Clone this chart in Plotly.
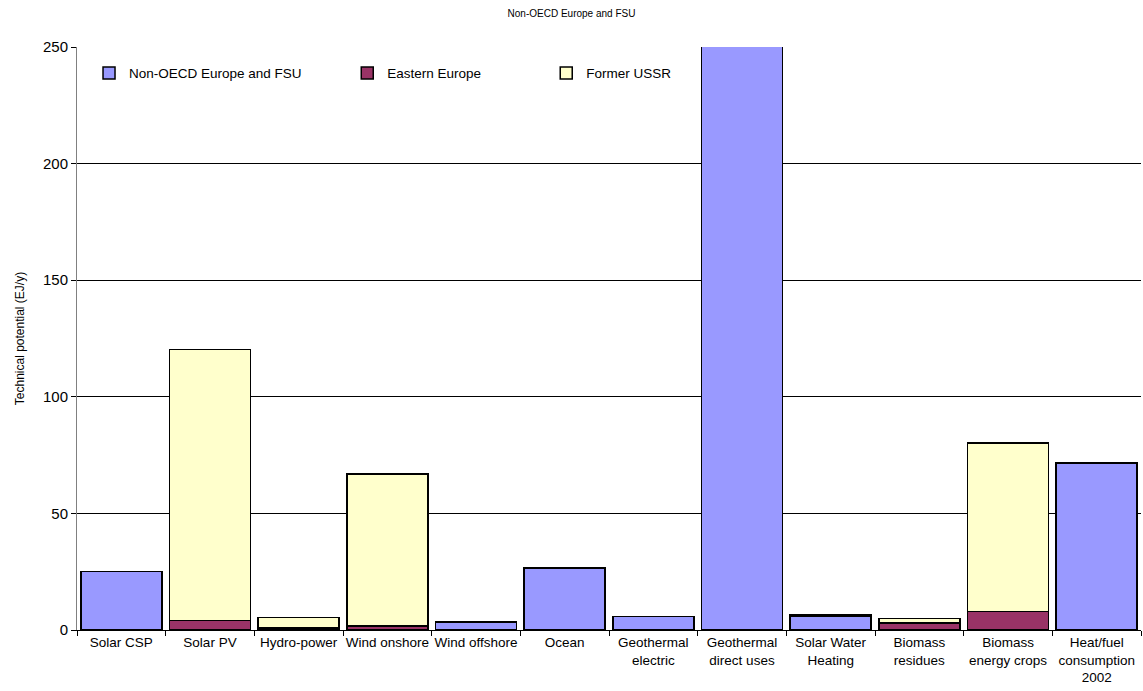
import plotly.graph_objects as go

# Technical potential of renewable energy sources, Non-OECD Europe and FSU (EJ/y)
categories = [
    "Solar CSP", "Solar PV", "Hydro-power", "Wind onshore", "Wind offshore",
    "Ocean", "Geothermal<br>electric", "Geothermal<br>direct uses",
    "Solar Water<br>Heating", "Biomass<br>residues", "Biomass<br>energy crops",
    "Heat/fuel<br>consumption<br>2002",
]
non_oecd_fsu = [25.0, 0, 0, 0, 3.5, 26.6, 5.7, 290.0, 5.8, 0, 0, 71.6]
eastern_europe = [0, 4.0, 0.9, 1.8, 0, 0, 0, 0, 0.3, 3.0, 8.0, 0]
former_ussr = [0, 116.2, 4.4, 65.0, 0, 0, 0, 0, 0.4, 2.0, 72.2, 0]

series_names = ["Non-OECD Europe and FSU", "Eastern Europe", "Former USSR"]
series_values = [non_oecd_fsu, eastern_europe, former_ussr]
series_colors = ["#9999FF", "#993366", "#FFFFCC"]
legend_ids = ["legend", "legend2", "legend3"]
legend_x = [0.0113, 0.254, 0.441]

FONT = "Liberation Sans, Arial, sans-serif"

fig = go.Figure()
for name, vals, color, lid in zip(series_names, series_values, series_colors, legend_ids):
    fig.add_trace(go.Bar(
        x=categories, y=vals, name=name,
        marker=dict(color=color, line=dict(color="#000000", width=1.5)),
        legend=lid,
    ))

legend_common = dict(
    orientation="h", y=0.955, yanchor="middle", xanchor="left",
    font=dict(family=FONT, size=13.5, color="#000000"),
    bgcolor="rgba(0,0,0,0)", itemwidth=30,
)
layout_legends = {}
for lid, lx in zip(legend_ids, legend_x):
    layout_legends[lid] = dict(legend_common, x=lx)

fig.update_layout(
    width=1143, height=691,
    barmode="stack", bargap=0.086,
    plot_bgcolor="#FFFFFF", paper_bgcolor="#FFFFFF",
    margin=dict(l=77, r=2, t=47, b=61),
    font=dict(family=FONT, color="#000000"),
    title=dict(text="Non-OECD Europe and FSU", x=0.5, xanchor="center",
               y=0.981, yanchor="middle", font=dict(family=FONT, size=10)),
    showlegend=True,
    **layout_legends,
)

fig.update_xaxes(
    tickson="boundaries", ticks="outside", ticklen=5, tickcolor="#000000",
    showline=True, linecolor="#000000", linewidth=1,
    tickfont=dict(family=FONT, size=13.5), tickangle=0,
    showgrid=False,
)
fig.update_yaxes(
    range=[0, 250], dtick=50, ticks="outside", ticklen=5, tickcolor="#000000",
    showline=True, linecolor="#808080", linewidth=1,
    showgrid=True, gridcolor="#000000", gridwidth=1,
    zeroline=False,
    tickfont=dict(family=FONT, size=15),
    title=dict(text="Technical potential (EJ/y)", font=dict(family=FONT, size=12), standoff=15),
)

fig.write_html("out.html")
